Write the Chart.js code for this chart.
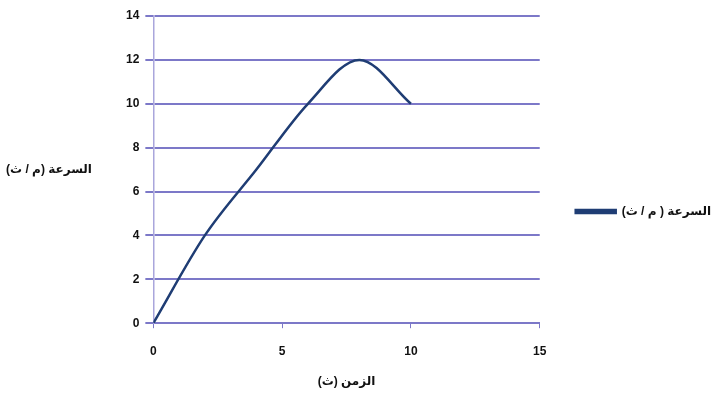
<!DOCTYPE html>
<html>
<head>
<meta charset="utf-8">
<script src="https://cdn.jsdelivr.net/npm/chart.js@4"></script>
<style>
  html, body { margin: 0; padding: 0; background: #fff; }
  #wrap { width: 725px; height: 398px; }
</style>
</head>
<body>
<div id="wrap"><canvas id="speedChart"></canvas></div>
<script>
// data
const times = [0, 2, 4, 6, 8, 10];
const speeds = [0, 4, 7, 10, 12, 10];
const seriesLabel = 'السرعة ( م / ث)';
const yTitle = 'السرعة (م / ث)';
const xTitle = 'الزمن (ث)';

const FONT = "'Liberation Sans', 'DejaVu Sans', sans-serif";
const GRID = '#7c78c8';

// y title is horizontal on the left, so draw it by hand
const yTitlePlugin = {
    id: 'yTitle',
    afterDraw(chart) {
        const { ctx, chartArea } = chart;
        ctx.save();
        ctx.font = 'bold 12px ' + FONT;
        ctx.fillStyle = '#111';
        ctx.textAlign = 'center';
        ctx.textBaseline = 'middle';
        ctx.fillText(yTitle, 49, (chartArea.top + chartArea.bottom) / 2);
        ctx.restore();
    }
};

new Chart(document.getElementById('speedChart'), {
    type: 'line',
    data: {
        datasets: [{
            label: seriesLabel,
            data: times.map((t, i) => ({ x: t, y: speeds[i] })),
            borderColor: '#1f3d74',
            backgroundColor: '#1f3d74',
            borderWidth: 2.5,
            pointRadius: 0,
            cubicInterpolationMode: 'monotone',
            fill: false
        }]
    },
    options: {
        responsive: true,
        maintainAspectRatio: false,
        animation: false,
        layout: { padding: { left: 120, top: 16, right: 4, bottom: 5 } },
        plugins: {
            legend: {
                position: 'right',
                maxWidth: 220,
                title: { display: true, text: ' ', font: { size: 10 }, padding: 1 },
                labels: {
                    boxWidth: 40,
                    boxHeight: 3,
                    padding: 36,
                    color: '#111',
                    font: { family: FONT, size: 12, weight: 'bold' }
                }
            },
            tooltip: { enabled: false }
        },
        scales: {
            x: {
                type: 'linear',
                min: 0,
                max: 15,
                ticks: { stepSize: 5, color: '#111', font: { family: FONT, size: 12, weight: 'bold' }, padding: 16 },
                grid: { drawOnChartArea: false, color: GRID, tickLength: 5 },
                border: { color: GRID, width: 2 },
                title: { display: true, text: xTitle, color: '#111', font: { family: FONT, size: 12, weight: 'bold' }, padding: { top: 0, bottom: 4 } }
            },
            y: {
                min: 0,
                max: 14,
                ticks: { stepSize: 2, color: '#111', font: { family: FONT, size: 12, weight: 'bold' }, padding: 6 },
                grid: { color: GRID, lineWidth: 2, tickLength: 8 },
                border: { color: '#aaa6dc', width: 1.5 }
            }
        }
    },
    plugins: [yTitlePlugin]
});
</script>
</body>
</html>
